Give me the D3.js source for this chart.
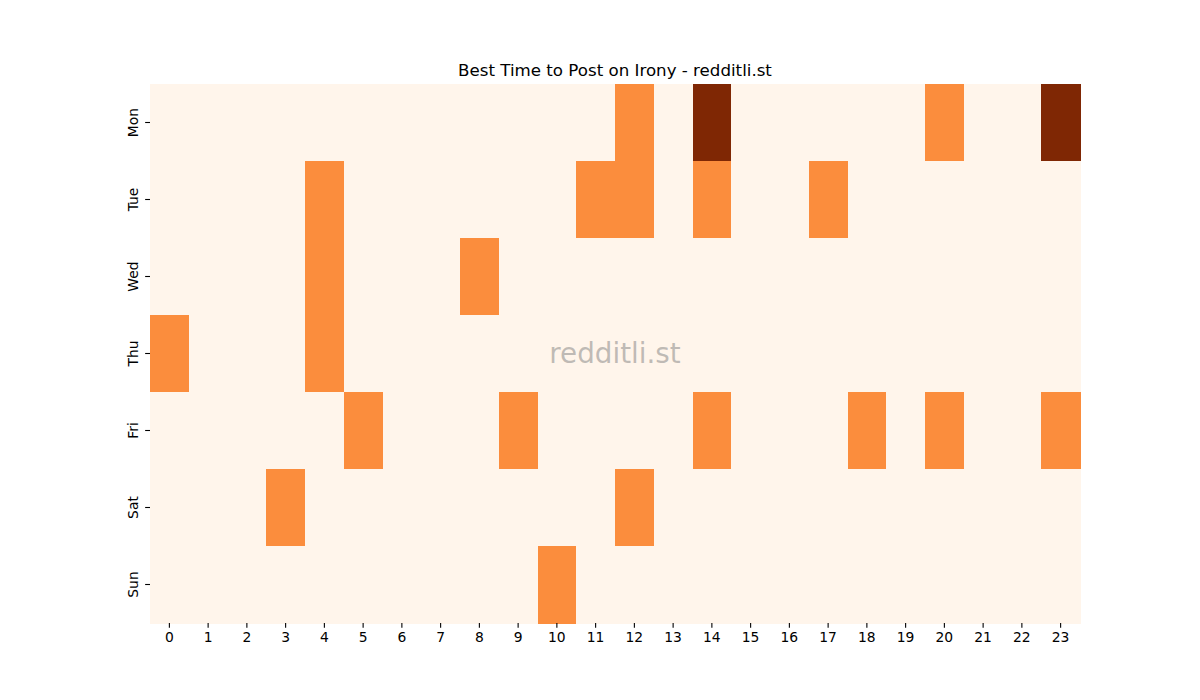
<!DOCTYPE html>
<html>
<head>
<meta charset="utf-8">
<script src="https://cdn.jsdelivr.net/npm/d3@7"></script>
<style>
  html, body { margin: 0; padding: 0; background: #fff; }
  svg { display: block; font-family: "DejaVu Sans", sans-serif; }
</style>
</head>
<body>
<svg id="chart" width="1200" height="700"></svg>
<script>
const days = ["Mon", "Tue", "Wed", "Thu", "Fri", "Sat", "Sun"];
const hours = ["0","1","2","3","4","5","6","7","8","9","10","11","12","13","14","15","16","17","18","19","20","21","22","23"];
// values per day, 24 hours
const mon = [0,0,0,0,0,0,0,0,0,0,0,0,1,0,2,0,0,0,0,0,1,0,0,2];
const tue = [0,0,0,0,1,0,0,0,0,0,0,1,1,0,1,0,0,1,0,0,0,0,0,0];
const wed = [0,0,0,0,1,0,0,0,1,0,0,0,0,0,0,0,0,0,0,0,0,0,0,0];
const thu = [1,0,0,0,1,0,0,0,0,0,0,0,0,0,0,0,0,0,0,0,0,0,0,0];
const fri = [0,0,0,0,0,1,0,0,0,1,0,0,0,0,1,0,0,0,1,0,1,0,0,1];
const sat = [0,0,0,1,0,0,0,0,0,0,0,0,1,0,0,0,0,0,0,0,0,0,0,0];
const sun = [0,0,0,0,0,0,0,0,0,0,1,0,0,0,0,0,0,0,0,0,0,0,0,0];
const rows = [mon, tue, wed, thu, fri, sat, sun];
const title = "Best Time to Post on Irony - redditli.st";
const watermark = "redditli.st";

const svg = d3.select("#chart");
const mLeft = 150, mRight = 1080, mTop = 84, mBottom = 623;

const x = d3.scaleBand().domain(hours).range([mLeft, mRight]).padding(0);
const y = d3.scaleBand().domain(days).range([mTop, mBottom]).padding(0);
const color = d3.scaleSequential(d3.interpolateOranges).domain([0, 2]);

const cells = [];
rows.forEach((r, i) => r.forEach((v, j) => cells.push({day: days[i], hour: hours[j], v})));

svg.append("g").selectAll("rect").data(cells).join("rect")
  .attr("x", d => x(d.hour))
  .attr("y", d => y(d.day))
  .attr("width", x.bandwidth() + 0.5)
  .attr("height", y.bandwidth() + 0.5)
  .attr("fill", d => color(d.v))
  .attr("shape-rendering", "crispEdges");

// axes
const xAxis = svg.append("g").attr("transform", `translate(0,${mBottom})`)
  .call(d3.axisBottom(x).tickSize(4.86).tickPadding(4.86));
xAxis.select(".domain").remove();
xAxis.selectAll("line").attr("stroke", "#000").attr("stroke-width", 1.1);
xAxis.selectAll("text").attr("font-size", "13.89px").attr("fill", "#000")
  .attr("font-family", "DejaVu Sans, sans-serif").attr("dy", "0.7em");

const yAxis = svg.append("g").attr("transform", `translate(${mLeft},0)`)
  .call(d3.axisLeft(y).tickSize(4.86).tickPadding(4.86));
yAxis.select(".domain").remove();
yAxis.selectAll("line").attr("stroke", "#000").attr("stroke-width", 1.1);
yAxis.selectAll("text").attr("font-size", "13.89px").attr("fill", "#000")
  .attr("font-family", "DejaVu Sans, sans-serif")
  .attr("text-anchor", "middle")
  .attr("dy", null)
  .attr("x", null)
  .attr("transform", "translate(-17,0) rotate(-90)")
  .attr("dominant-baseline", "central");

// title
svg.append("text").attr("x", (mLeft + mRight) / 2).attr("y", 76)
  .attr("text-anchor", "middle").attr("font-size", "16.67px").attr("fill", "#000")
  .text(title);

// watermark
svg.append("text").attr("x", (mLeft + mRight) / 2).attr("y", (mTop + mBottom) / 2)
  .attr("text-anchor", "middle").attr("dominant-baseline", "central")
  .attr("font-size", "27.78px").attr("fill", "#808080").attr("fill-opacity", 0.5)
  .text(watermark);
</script>
</body>
</html>
